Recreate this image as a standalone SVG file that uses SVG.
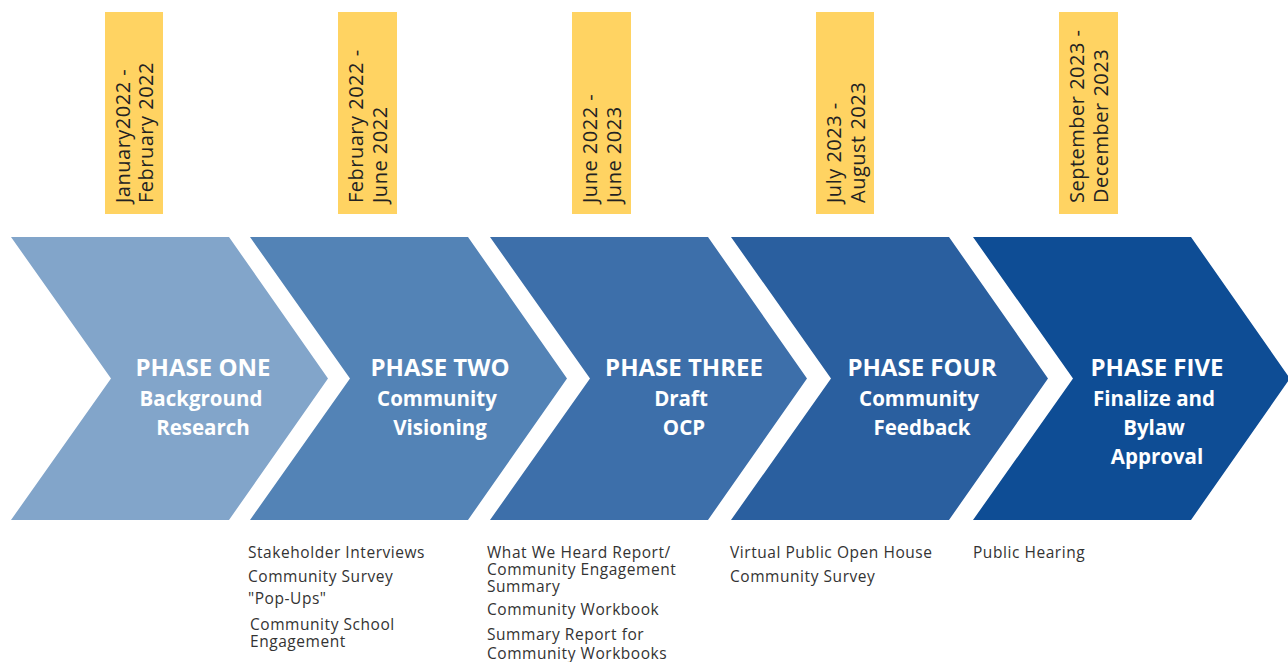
<svg xmlns="http://www.w3.org/2000/svg" width="1288" height="662" viewBox="0 0 1288 662">
  <defs>
    <!-- one chevron shape, placed per phase -->
    <path id="chev" d="M0,237 L218,237 L317,378.5 L218,520 L0,520 L100,378.5 Z"/>
    <style>
      .date-box { fill: #FFD362; }
      .date { font-family: "Open Sans", "Liberation Sans", sans-serif; font-size: 20px; letter-spacing: 0.5px; fill: #222; }
      .ph { font-family: "Open Sans", "Liberation Sans", sans-serif; font-weight: 700; fill: #fff; text-anchor: middle; }
      .ph-title { font-size: 24px; }
      .ph-sub { font-size: 20.5px; }
      .note { font-family: "Open Sans", "Liberation Sans", sans-serif; font-size: 15.5px; letter-spacing: 0.55px; fill: #333; }
    </style>
  </defs>
  <rect width="1288" height="662" fill="#fff"/>

  <!-- date ribbons -->
  <g id="dates">
    <g id="date1">
      <rect class="date-box" x="105" y="12" width="58" height="202"/>
      <text class="date" transform="translate(130,203) rotate(-90)"><tspan x="0" y="0">January2022 -</tspan><tspan x="0" y="23">February 2022</tspan></text>
    </g>
    <g id="date2">
      <rect class="date-box" x="338" y="12" width="59" height="202"/>
      <text class="date" transform="translate(363,203) rotate(-90)"><tspan x="0" y="0">February 2022 -</tspan><tspan x="0" y="24">June 2022</tspan></text>
    </g>
    <g id="date3">
      <rect class="date-box" x="572" y="12" width="59" height="202"/>
      <text class="date" transform="translate(597,203) rotate(-90)"><tspan x="0" y="0">June 2022 -</tspan><tspan x="0" y="24">June 2023</tspan></text>
    </g>
    <g id="date4">
      <rect class="date-box" x="816" y="12" width="58" height="202"/>
      <text class="date" transform="translate(841,203) rotate(-90)"><tspan x="0" y="0">July 2023  -</tspan><tspan x="0" y="24">August 2023</tspan></text>
    </g>
    <g id="date5">
      <rect class="date-box" x="1059" y="12" width="59" height="202"/>
      <text class="date" transform="translate(1084,203) rotate(-90)"><tspan x="0" y="0">September 2023 -</tspan><tspan x="0" y="24">December 2023</tspan></text>
    </g>
  </g>

  <!-- phase chevrons -->
  <g id="phase1">
    <use href="#chev" x="11" fill="#82A5CA"/>
    <text class="ph ph-title" x="203" y="376">PHASE ONE</text>
    <text class="ph ph-sub" x="201" y="406">Background</text>
    <text class="ph ph-sub" x="203" y="435">Research</text>
  </g>
  <g id="phase2">
    <use href="#chev" x="250" fill="#5383B6"/>
    <text class="ph ph-title" x="440" y="376">PHASE TWO</text>
    <text class="ph ph-sub" x="437" y="406">Community</text>
    <text class="ph ph-sub" x="440" y="435">Visioning</text>
  </g>
  <g id="phase3">
    <use href="#chev" x="490" fill="#3D6FAA"/>
    <text class="ph ph-title" x="684" y="376">PHASE THREE</text>
    <text class="ph ph-sub" x="681" y="406">Draft</text>
    <text class="ph ph-sub" x="684" y="435">OCP</text>
  </g>
  <g id="phase4">
    <use href="#chev" x="731" fill="#2A5F9F"/>
    <text class="ph ph-title" x="922" y="376">PHASE FOUR</text>
    <text class="ph ph-sub" x="919" y="406">Community</text>
    <text class="ph ph-sub" x="922" y="435">Feedback</text>
  </g>
  <g id="phase5">
    <use href="#chev" x="973" fill="#0E4D95"/>
    <text class="ph ph-title" x="1157" y="376">PHASE FIVE</text>
    <text class="ph ph-sub" x="1154" y="406">Finalize and</text>
    <text class="ph ph-sub" x="1154" y="435">Bylaw</text>
    <text class="ph ph-sub" x="1157" y="464">Approval</text>
  </g>

  <!-- activities under each phase -->
  <g id="notes2">
    <text class="note" x="248" y="558">Stakeholder Interviews</text>
    <text class="note" x="248" y="582">Community Survey</text>
    <text class="note" x="248" y="604">"Pop-Ups"</text>
    <text class="note" x="250" y="630">Community School</text>
    <text class="note" x="250" y="647">Engagement</text>
  </g>
  <g id="notes3">
    <text class="note" x="487" y="558">What We Heard Report/</text>
    <text class="note" x="487" y="575">Community Engagement</text>
    <text class="note" x="487" y="592">Summary</text>
    <text class="note" x="487" y="615">Community Workbook</text>
    <text class="note" x="487" y="640">Summary Report for</text>
    <text class="note" x="487" y="659">Community Workbooks</text>
  </g>
  <g id="notes4">
    <text class="note" x="730" y="558">Virtual Public Open House</text>
    <text class="note" x="730" y="582">Community Survey</text>
  </g>
  <g id="notes5">
    <text class="note" x="973" y="558">Public Hearing</text>
  </g>
</svg>
